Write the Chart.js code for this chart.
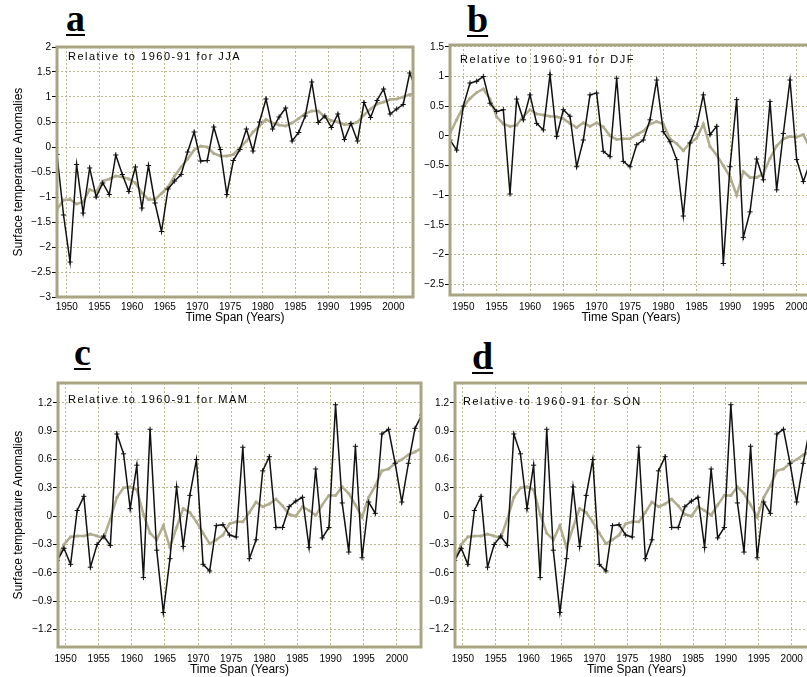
<!DOCTYPE html>
<html lang="en">
<head>
<meta charset="UTF-8" />
<title>Seasonal surface temperature anomalies</title>
<script src="https://cdn.jsdelivr.net/npm/chart.js"></script>
<style>
  body { margin: 0; background: #fff; width: 807px; height: 677px; overflow: hidden; position: relative; }
  canvas { position: absolute; }
  .tag { position: absolute; font: bold 38px "Liberation Serif", "Times New Roman", serif; line-height: 36px;
         text-decoration: underline; text-decoration-thickness: 2px; text-underline-offset: 3px; color: #000; }
</style>
</head>
<body>
<span class="tag" style="left:66px; top:0px">a</span>
<span class="tag" style="left:467px; top:1px">b</span>
<span class="tag" style="left:74px; top:334px">c</span>
<span class="tag" style="left:472px; top:338px">d</span>

<canvas id="jjaChart" width="425" height="292" style="left:0; top:38px"></canvas>
<canvas id="djfChart" width="420" height="292" style="left:400px; top:38px"></canvas>
<canvas id="mamChart" width="430" height="310" style="left:0; top:375px"></canvas>
<canvas id="sonChart" width="430" height="310" style="left:400px; top:375px"></canvas>

<script>
// years of the series (one value per year in every panel)
const years = [1948, 1949, 1950, 1951, 1952, 1953, 1954, 1955, 1956, 1957,
  1958, 1959, 1960, 1961, 1962, 1963, 1964, 1965, 1966, 1967,
  1968, 1969, 1970, 1971, 1972, 1973, 1974, 1975, 1976, 1977,
  1978, 1979, 1980, 1981, 1982, 1983, 1984, 1985, 1986, 1987,
  1988, 1989, 1990, 1991, 1992, 1993, 1994, 1995, 1996, 1997,
  1998, 1999, 2000, 2001, 2002, 2003];

const xTicks = [1950, 1955, 1960, 1965, 1970, 1975, 1980, 1985, 1990, 1995, 2000];
const yTicksJJA = [2, 1.5, 1, 0.5, 0, -0.5, -1, -1.5, -2, -2.5, -3];
const yTicksDJF = [1.5, 1, 0.5, 0, -0.5, -1, -1.5, -2, -2.5];
const yTicksSpringAutumn = [1.2, 0.9, 0.6, 0.3, 0, -0.3, -0.6, -0.9, -1.2];

// a: JJA
const jjaAnomaly = [-0.15, -1.36, -2.3, -0.35, -1.32, -0.42, -1.0, -0.72, -0.95, -0.16,
  -0.55, -0.89, -0.4, -1.22, -0.37, -1.12, -1.69, -0.84, -0.68, -0.55,
  -0.1, 0.3, -0.28, -0.27, 0.4, -0.05, -0.95, -0.27, -0.05, 0.36,
  -0.08, 0.5, 0.96, 0.36, 0.6, 0.78, 0.12, 0.29, 0.62, 1.3,
  0.49, 0.62, 0.39, 0.66, 0.15, 0.47, 0.12, 0.89, 0.59, 0.93,
  1.16, 0.66, 0.76, 0.85, 1.48, 1.15];
const jjaSmooth = [-1.25, -1.06, -1.05, -1.14, -1.1, -0.85, -0.9, -0.68, -0.64, -0.58,
  -0.6, -0.64, -0.72, -0.92, -1.05, -1.05, -0.93, -0.8, -0.58, -0.4,
  -0.24, -0.06, 0.02, 0.0, -0.13, -0.18, -0.18, -0.15, -0.02, 0.12,
  0.3, 0.42, 0.55, 0.48, 0.44, 0.42, 0.48, 0.57, 0.67, 0.72,
  0.72, 0.6, 0.53, 0.5, 0.45, 0.45, 0.5, 0.64, 0.76, 0.86,
  0.9, 0.95, 0.96, 1.0, 1.05, 1.06];

// b: DJF
const djfAnomaly = [-0.07, -0.24, 0.5, 0.89, 0.92, 1.0, 0.55, 0.41, 0.44, -0.98,
  0.62, 0.27, 0.69, 0.21, 0.1, 1.03, -0.01, 0.44, 0.33, -0.52,
  -0.07, 0.69, 0.72, -0.26, -0.35, 0.97, -0.43, -0.52, -0.15, -0.07,
  0.27, 0.94, 0.07, -0.1, -0.4, -1.35, -0.12, 0.16, 0.69, 0.02,
  0.16, -2.15, -0.52, 0.61, -1.71, -1.28, -0.39, -0.74, 0.58, -0.91,
  0.04, 0.94, -0.4, -0.77, -0.45, -0.3];
const djfSmooth = [0.04, 0.27, 0.49, 0.63, 0.73, 0.79, 0.62, 0.32, 0.2, 0.16,
  0.18, 0.33, 0.44, 0.37, 0.35, 0.33, 0.32, 0.29, 0.21, 0.14,
  0.22, 0.16, 0.22, 0.15, 0.0, -0.06, -0.05, -0.05, 0.02, 0.08,
  0.2, 0.24, 0.2, -0.05, -0.13, -0.25, -0.12, -0.04, 0.2, -0.18,
  -0.32, -0.5, -0.69, -1.0, -0.6, -0.7, -0.7, -0.64, -0.38, -0.17,
  -0.05, -0.01, -0.02, 0.02, -0.2, -0.25];

// c: MAM
const mamAnomaly = [-0.47, -0.34, -0.51, 0.06, 0.21, -0.54, -0.3, -0.21, -0.31, 0.87,
  0.66, 0.08, 0.54, -0.65, 0.92, -0.36, -1.02, -0.45, 0.31, -0.32,
  0.22, 0.6, -0.51, -0.58, -0.1, -0.09, -0.2, -0.22, 0.73, -0.45,
  -0.25, 0.48, 0.63, -0.12, -0.12, 0.1, 0.16, 0.2, -0.33, 0.5,
  -0.23, -0.12, 1.18, 0.14, -0.38, 0.74, -0.44, 0.15, 0.03, 0.87,
  0.92, 0.56, 0.15, 0.56, 0.93, 1.07];
const mamSmooth = [-0.45, -0.3, -0.22, -0.21, -0.21, -0.19, -0.21, -0.23, -0.03, 0.2,
  0.3, 0.31, 0.28, 0.02, -0.18, -0.25, -0.1, -0.33, -0.12, 0.08,
  0.04, -0.06, -0.18, -0.29, -0.25, -0.2, -0.08, -0.06, -0.06, 0.04,
  0.15, 0.1, 0.13, 0.18, 0.11, 0.02, 0.0, 0.1, 0.06, 0.01,
  0.12, 0.22, 0.22, 0.31, 0.24, 0.12, -0.01, 0.2, 0.32, 0.48,
  0.5, 0.56, 0.6, 0.65, 0.68, 0.72];

// d: SON (the figure shows the same curve as MAM)
const sonAnomaly = [-0.47, -0.34, -0.51, 0.06, 0.21, -0.54, -0.3, -0.21, -0.31, 0.87,
  0.66, 0.08, 0.54, -0.65, 0.92, -0.36, -1.02, -0.45, 0.31, -0.32,
  0.22, 0.6, -0.51, -0.58, -0.1, -0.09, -0.2, -0.22, 0.73, -0.45,
  -0.25, 0.48, 0.63, -0.12, -0.12, 0.1, 0.16, 0.2, -0.33, 0.5,
  -0.23, -0.12, 1.18, 0.14, -0.38, 0.74, -0.44, 0.15, 0.03, 0.87,
  0.92, 0.56, 0.15, 0.56, 0.93, 1.07];
const sonSmooth = [-0.45, -0.3, -0.22, -0.21, -0.21, -0.19, -0.21, -0.23, -0.03, 0.2,
  0.3, 0.31, 0.28, 0.02, -0.18, -0.25, -0.1, -0.33, -0.12, 0.08,
  0.04, -0.06, -0.18, -0.29, -0.25, -0.2, -0.08, -0.06, -0.06, 0.04,
  0.15, 0.1, 0.13, 0.18, 0.11, 0.02, 0.0, 0.1, 0.06, 0.01,
  0.12, 0.22, 0.22, 0.31, 0.24, 0.12, -0.01, 0.2, 0.32, 0.48,
  0.5, 0.56, 0.6, 0.65, 0.68, 0.72];

const FRAME = '#a8a582';
const GRID = '#bab790';
const SMOOTH = '#b0ad8e';
const FONT = '"Liberation Sans", Arial, sans-serif';

// olive frame round the plot area and the "Relative to ..." note
const framePlugin = {
  id: 'frame',
  afterDraw(chart, args, opts) {
    const {ctx, chartArea: a} = chart;
    ctx.save();
    ctx.strokeStyle = FRAME;
    ctx.lineWidth = 3;
    ctx.strokeRect(a.left, a.top, a.right - a.left, a.bottom - a.top);
    ctx.fillStyle = '#000';
    ctx.font = '11px ' + FONT;
    ctx.letterSpacing = '1.5px';
    ctx.textBaseline = 'middle';
    ctx.fillText(opts.note, a.left + opts.noteX, a.top + opts.noteY);
    ctx.restore();
  }
};

function fmt(v) {
  return v < 0 ? '\u2212' + String(-v) : String(v);
}

function makePanel(id, p) {
  // shift = where inside the year the value is plotted in this panel
  const pts = vals => vals.map((v, i) => ({x: years[i] + p.shift, y: v}));
  return new Chart(document.getElementById(id), {
    type: 'line',
    data: {
      datasets: [
        { data: pts(p.smooth), borderColor: SMOOTH, backgroundColor: SMOOTH, borderWidth: 2.5,
          pointStyle: 'circle', pointRadius: 1.6, pointBorderWidth: 0, order: 2 },
        { data: pts(p.values), borderColor: '#111', backgroundColor: '#111', borderWidth: 1.5,
          pointStyle: 'cross', pointRadius: 2.6, pointBorderWidth: 1, order: 1 }
      ]
    },
    options: {
      responsive: false,
      animation: false,
      events: [],
      layout: { padding: { top: p.padTop, right: p.padRight, left: 0, bottom: 0 } },
      plugins: {
        legend: { display: false },
        tooltip: { enabled: false },
        frame: { note: p.note, noteX: p.noteX, noteY: p.noteY }
      },
      scales: {
        x: {
          type: 'linear', min: p.xMin, max: p.xMax,
          afterBuildTicks: s => { s.ticks = xTicks.map(v => ({value: v})); },
          afterFit: s => { s.height = p.xAxisH; },
          grid: { color: GRID, lineWidth: 1, drawTicks: false },
          border: { display: false, dash: [2, 2] },
          ticks: { padding: p.xTickPad, color: '#000', font: { family: FONT, size: 10 },
                   maxRotation: 0, autoSkip: false, callback: v => String(v) },
          title: { display: true, text: 'Time Span (Years)', color: '#000',
                   font: { family: FONT, size: 12 }, padding: { top: 0, bottom: p.xTitlePad } }
        },
        y: {
          min: p.yMin, max: p.yMax,
          afterBuildTicks: s => { s.ticks = p.yTicks.map(v => ({value: v})); },
          afterFit: s => { s.width = p.yAxisW; },
          grid: { color: GRID, lineWidth: 1, drawTicks: true, tickLength: 5,
                  tickColor: '#000', tickWidth: 1, tickBorderDash: [] },
          border: { display: false, dash: [2, 2] },
          ticks: { padding: 1, color: '#000', font: { family: FONT, size: 10 }, callback: v => fmt(v) },
          title: { display: p.yTitle, text: 'Surface temperature Anomalies', color: '#000',
                   font: { family: FONT, size: 12 }, padding: { top: 11, bottom: 0 } }
        }
      }
    },
    plugins: [framePlugin]
  });
}

makePanel('jjaChart', {
  values: jjaAnomaly, smooth: jjaSmooth, shift: 0.5,
  xMin: 1948.5, xMax: 2003, yMin: -3, yMax: 2, yTicks: yTicksJJA,
  padTop: 9, padRight: 12, yAxisW: 57, xAxisH: 33, xTickPad: 4, xTitlePad: 5,
  yTitle: true, note: 'Relative to 1960-91 for JJA', noteX: 11, noteY: 10
});

makePanel('djfChart', {
  values: djfAnomaly, smooth: djfSmooth, shift: 0,
  xMin: 1948, xMax: 2002.3, yMin: -2.68, yMax: 1.53, yTicks: yTicksDJF,
  padTop: 7, padRight: 8, yAxisW: 50, xAxisH: 35, xTickPad: 6, xTitlePad: 5,
  yTitle: false, note: 'Relative to 1960-91 for DJF', noteX: 10, noteY: 15
});

makePanel('mamChart', {
  values: mamAnomaly, smooth: mamSmooth, shift: 0.75,
  xMin: 1948.85, xMax: 2003.65, yMin: -1.385, yMax: 1.41, yTicks: yTicksSpringAutumn,
  padTop: 8, padRight: 9, yAxisW: 58, xAxisH: 38, xTickPad: 6, xTitlePad: 8,
  yTitle: true, note: 'Relative to 1960-91 for MAM', noteX: 10, noteY: 17
});

makePanel('sonChart', {
  values: sonAnomaly, smooth: sonSmooth, shift: 0.75,
  xMin: 1948.8, xMax: 2004, yMin: -1.385, yMax: 1.41, yTicks: yTicksSpringAutumn,
  padTop: 8, padRight: 12, yAxisW: 55, xAxisH: 38, xTickPad: 6, xTitlePad: 8,
  yTitle: false, note: 'Relative to 1960-91 for SON', noteX: 8, noteY: 19
});
</script>
</body>
</html>
